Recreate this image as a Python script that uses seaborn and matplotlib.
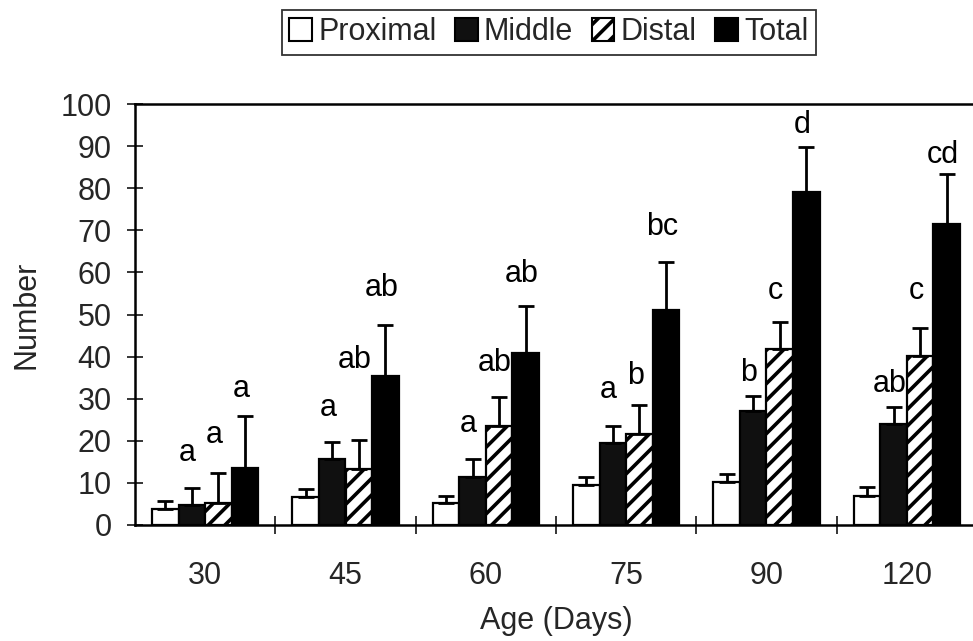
import numpy as np
import pandas as pd
import matplotlib
matplotlib.use("Agg")
import matplotlib.pyplot as plt
import seaborn as sns
from matplotlib.patches import Patch

ages = ["30", "45", "60", "75", "90", "120"]
parts = ["Proximal", "Middle", "Distal", "Total"]

proximal = [3.7, 6.7, 5.2, 9.5, 10.1, 7.0]
middle = [4.7, 15.6, 11.5, 19.5, 27.1, 24.0]
distal = [5.2, 13.2, 23.5, 21.5, 41.8, 40.1]
total = [13.5, 35.5, 40.8, 51.0, 79.2, 71.5]

proximal_err = [2.0, 1.8, 1.8, 2.0, 2.0, 2.0]
middle_err = [4.0, 4.1, 4.2, 4.0, 3.6, 4.1]
distal_err = [7.1, 6.9, 6.8, 7.0, 6.3, 6.8]
total_err = [12.4, 12.0, 11.2, 11.5, 10.6, 11.9]

middle_letters = ["a", "a", "a", "a", "b", "ab"]
distal_letters = ["a", "ab", "ab", "b", "c", "c"]
total_letters = ["a", "ab", "ab", "bc", "d", "cd"]
middle_letter_y = [17.0, 27.7, 24.1, 32.0, 36.0, 33.6]
distal_letter_y = [21.3, 39.1, 38.4, 35.5, 55.7, 55.7]
total_letter_y = [32.4, 56.2, 59.7, 70.7, 94.9, 87.8]

values = {"Proximal": proximal, "Middle": middle, "Distal": distal, "Total": total}
errs = {"Proximal": proximal_err, "Middle": middle_err, "Distal": distal_err, "Total": total_err}

rows = []
for p in parts:
    for a, v in zip(ages, values[p]):
        rows.append({"Age": a, "Part": p, "Number": v})
df = pd.DataFrame(rows)

sns.set_style("white")
plt.rcParams["font.family"] = ["Liberation Sans", "DejaVu Sans"]
plt.rcParams["hatch.linewidth"] = 2.6

FS = 22

fig = plt.figure(figsize=(9.73, 6.41), dpi=100)
ax = fig.add_axes([135 / 973, 1 - 525 / 641, 842 / 973, 421 / 641])

styles = {
    "Proximal": dict(facecolor="white", hatch=None),
    "Middle": dict(facecolor="#101010", hatch=None),
    "Distal": dict(facecolor="white", hatch="//"),
    "Total": dict(facecolor="black", hatch=None),
}

sns.barplot(data=df, x="Age", y="Number", hue="Part", order=ages, hue_order=parts,
            width=0.76, gap=0, errorbar=None, ax=ax, legend=False,
            palette=["white", "#101010", "white", "black"])

letters = {"Middle": (middle_letters, middle_letter_y),
           "Distal": (distal_letters, distal_letter_y),
           "Total": (total_letters, total_letter_y)}

for p, cont in zip(parts, ax.containers):
    st = styles[p]
    xs = []
    for bar in cont:
        bar.set_facecolor(st["facecolor"])
        bar.set_edgecolor("black")
        bar.set_linewidth(1.6)
        if st["hatch"]:
            bar.set_hatch(st["hatch"])
        xs.append(bar.get_x() + bar.get_width() / 2)
    xs = np.array(xs)
    ax.errorbar(xs, values[p], yerr=[np.zeros(len(xs)), errs[p]], fmt="none",
                ecolor="black", elinewidth=2.0, capsize=5.5, capthick=2.0, zorder=1)
    if p in letters:
        labs, ly = letters[p]
        for x, t, y in zip(xs, labs, ly):
            ax.text(x - 0.03, y, t, ha="center", va="center", fontsize=FS, color="black")

ax.set_ylim(0, 100)
ax.set_xlim(-0.5, 5.5)
ax.set_yticks(range(0, 101, 10))
ax.tick_params(axis="y", direction="inout", length=11.5, width=1.3, labelsize=FS, pad=11, left=True)
ax.set_xticks(range(len(ages)))
ax.set_xticklabels(ages)
ax.tick_params(axis="x", which="major", length=0, labelsize=FS, pad=26)
ax.set_xticks(np.arange(0.5, 5.5, 1), minor=True)
ax.tick_params(axis="x", which="minor", direction="inout", length=13, width=1.3, bottom=True)

for s in ["left", "bottom", "top", "right"]:
    ax.spines[s].set_visible(True)
    ax.spines[s].set_color("black")
    ax.spines[s].set_linewidth(1.8)

ax.set_xlabel("Age (Days)", fontsize=FS, labelpad=11)
ax.set_ylabel("Number", fontsize=FS, labelpad=14)

handles = [Patch(facecolor=styles[p]["facecolor"], edgecolor="black",
                 hatch=styles[p]["hatch"], linewidth=1.5, label=p) for p in parts]
leg = fig.legend(handles=handles, loc="upper center", bbox_to_anchor=(0.564, 1.009),
                 ncol=4, frameon=True, fontsize=FS, handlelength=0.75, handleheight=0.75,
                 handletextpad=0.2, columnspacing=0.6, borderpad=0.25, fancybox=False)
leg.get_frame().set_edgecolor("black")
leg.get_frame().set_linewidth(1.3)

fig.savefig("out.png", dpi=100)
